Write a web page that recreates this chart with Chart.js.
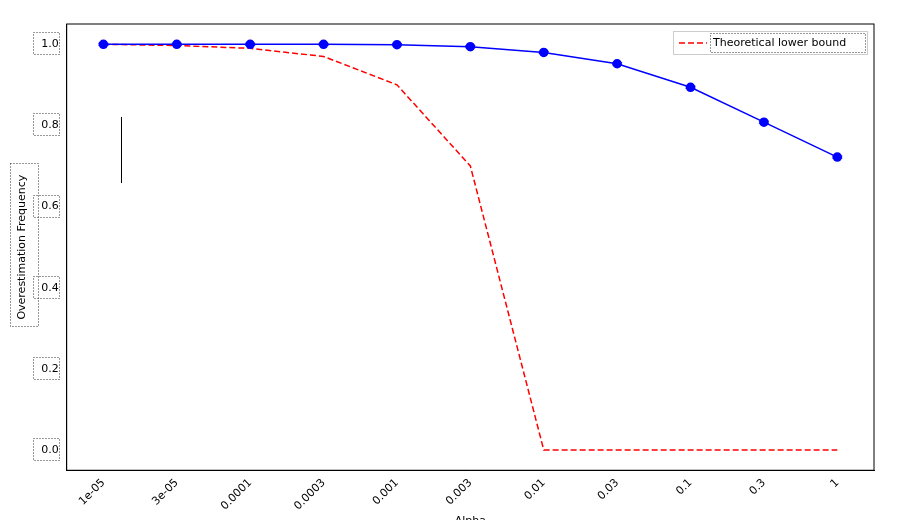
<!DOCTYPE html>
<html><head><script src="https://cdn.jsdelivr.net/npm/chart.js"></script>
<style>body{margin:0;background:#fff}#w{width:900px;height:520px}</style></head>
<body><div id="w"><canvas id="c"></canvas></div>
<script>
const categories=['1e-05','3e-05','0.0001','0.0003','0.001','0.003','0.01','0.03','0.1','0.3','1'];
const observed=[1.0,1.0,1.0,1.0,0.999,0.994,0.98,0.952,0.894,0.808,0.722];
const lowerBound=[1.0,0.997,0.99,0.97,0.9,0.7,0,0,0,0,0];
const yTicks=[0,0.2,0.4,0.6,0.8,1.0];
Chart.defaults.font.family='DejaVu Sans';
Chart.defaults.color='#000';
const deco={id:'deco',afterDraw(ch){
  const c=ch.ctx,a=ch.chartArea,x=ch.scales.x,y=ch.scales.y;
  c.save();
  c.strokeStyle='#000';c.lineWidth=1;c.strokeRect(a.left,a.top,a.right-a.left,a.bottom-a.top);
  c.strokeStyle='blue';
  observed.forEach((v,i)=>{const px=x.getPixelForValue(i),py=y.getPixelForValue(v);c.beginPath();c.moveTo(px-5,py-1);c.lineTo(px+5,py-1);c.moveTo(px-5,py+1);c.lineTo(px+5,py+1);c.stroke();});
  c.strokeStyle='#000';c.beginPath();c.moveTo(121.5,117);c.lineTo(121.5,183);c.stroke();
  c.strokeStyle='#ccc';c.fillStyle='#fff';c.fillRect(673,31,195,24);c.strokeRect(673.5,31.5,194,23);
  c.strokeStyle='red';c.setLineDash([6,3]);c.lineWidth=1.5;c.beginPath();c.moveTo(679,43);c.lineTo(707,43);c.stroke();
  c.setLineDash([1,2]);c.lineWidth=1;c.strokeStyle='#333';c.strokeRect(710.5,33.5,155,19);
  c.fillStyle='#000';c.font='11px DejaVu Sans';c.textBaseline='middle';c.fillText('Theoretical lower bound',713,43);
  yTicks.forEach(v=>{const py=y.getPixelForValue(v);c.strokeRect(33.5,Math.round(py)-11.5,26,22);});
  c.strokeRect(10.5,163.5,28,163);
  c.restore();
}};
new Chart(document.getElementById('c'),{type:'line',
data:{labels:categories,datasets:[
 {label:'Observed',data:observed,borderColor:'blue',backgroundColor:'blue',borderWidth:1.5,pointRadius:4,pointHoverRadius:4,tension:0},
 {label:'Theoretical lower bound',data:lowerBound,borderColor:'red',borderDash:[6,3],borderWidth:1.5,pointRadius:0,tension:0}]},
options:{animation:false,responsive:true,maintainAspectRatio:false,
 layout:{padding:{left:12,top:24,right:26,bottom:6}},
 plugins:{legend:{display:false},tooltip:{enabled:false}},
 scales:{
  x:{offset:true,grid:{display:false,drawTicks:true,tickLength:4,color:'#000'},border:{color:'#000'},
     ticks:{maxRotation:45,minRotation:45,font:{size:11},padding:2},
     title:{display:true,text:'Alpha',font:{size:11},padding:{top:0,bottom:-14}}},
  y:{min:-0.05,max:1.05,afterBuildTicks(s){s.ticks=yTicks.map(v=>({value:v}));},
     grid:{display:false,tickLength:4,drawTicks:true,color:'#000'},border:{color:'#000'},
     ticks:{font:{size:11},callback:v=>v.toFixed(1),padding:4},
     title:{display:true,text:'Overestimation Frequency',font:{size:11},padding:{bottom:8}}}
 }},plugins:[deco]});
</script></body></html>
